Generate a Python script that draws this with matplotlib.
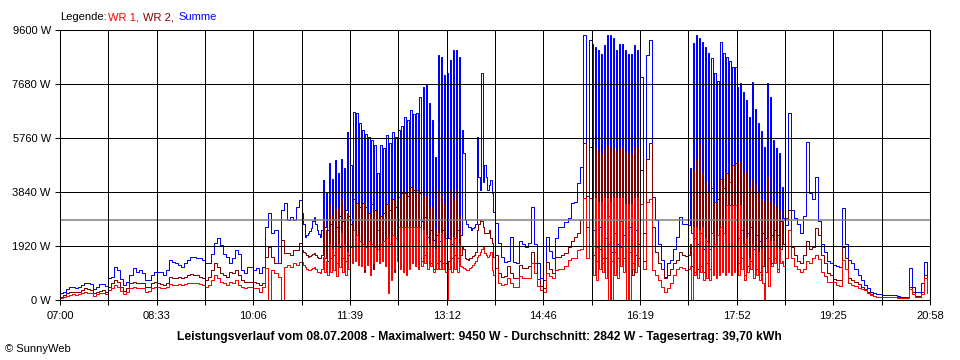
import numpy as np
import matplotlib
matplotlib.use('Agg')
import matplotlib.pyplot as plt

# Leistung in W; die 18 Rasterfelder (je ca. 46,6 min) haben 16 bzw. 32 Messwerte
samples_per_cell = [16, 16, 16, 16, 16, 32, 32, 32, 32, 16, 16, 32, 16, 32, 32, 16, 16, 16]

summe = [
    250, 300, 400, 450, 460, 420, 450, 520, 620, 600, 560, 380, 450, 560, 580, 500,
    770, 830, 1180, 1070, 750, 530, 650, 890, 1150, 1000, 1070, 950, 710, 700, 890, 1000,
    1000, 1000, 890, 1070, 1420, 1360, 1300, 1240, 1190, 1300, 1420, 1540, 1540, 1510, 1510, 1420,
    1300, 1300, 1640, 2040, 2200, 1950, 1640, 1520, 1300, 1500, 1780, 1640, 1070, 950, 1185, 1185,
    1070, 1130, 950, 1185, 2600, 3080, 2370, 2490, 1300, 3200, 3440, 2840, 2960, 2840, 3320, 3560,
    3080, 2700, 2250, 2300, 2370, 2450, 2550, 2800, 2960, 2700, 2490, 2350, 2250, 2500, 4270, 2600,
    3800, 2500, 4860, 2700, 4300, 2840, 4980, 2600, 4500, 3000, 5000, 2800, 4700, 3200, 5980, 3000,
    4800, 2600, 6700, 2500, 6650, 2300, 6300, 2000, 6040, 1800, 5900, 2200, 5800, 1700, 5690, 1800,
    5500, 2400, 4500, 2200, 5500, 2500, 5400, 2000, 5870, 600, 5570, 1300, 5980, 1800, 5800, 2500,
    6040, 2490, 6200, 2600, 6520, 2020, 6400, 2300, 6760, 2960, 6600, 2500, 6650, 2240, 7230, 2800,
    7570, 2960, 7640, 2240, 7000, 2500, 6400, 2130, 5100, 2300, 8700, 2100, 8640, 2490, 8000, 2200,
    8070, 2200, 8530, 2000, 8900, 2200, 8890, 2500, 8640, 2300, 6040, 5220, 2840, 2700, 2600, 2600,
    2490, 2550, 2600, 2700, 5800, 4380, 3910, 8070, 4200, 4800, 4380, 3910, 4100, 4270, 3800, 3130,
    2730, 2020, 1530, 1350, 1400, 2250, 1350, 1300, 2100, 2000, 1900, 2020, 3300, 2000, 1300, 780,
    710, 2250, 1750, 1490, 2200, 2600, 2600, 2770, 2900, 3440, 3500, 4150, 4740, 9420, 3700, 9240,
    9100, 2500, 9000, 1900, 8900, 2600, 8750, 1500, 9070, 2200, 9420, 3000, 9420, 1700, 9300, 2400,
    8900, 2000, 9100, 2800, 9100, 2300, 8900, 0, 8750, 2600, 8750, 1300, 9070, 2500, 8900, 2000,
    7930, 2400, 8700, 9240, 3660, 2840, 2000, 1420, 830, 1300, 1420, 1800, 2250, 2950, 2700, 2700,
    2670, 4690, 2370, 9130, 2200, 9420, 2000, 9300, 2400, 9170, 1800, 9000, 2100, 8800, 1800, 8600,
    2400, 8070, 2000, 7800, 2200, 9170, 2500, 8800, 2300, 8640, 2600, 8500, 2500, 8300, 2300, 8290,
    7570, 2200, 7700, 2500, 7390, 2000, 7110, 2400, 6520, 2600, 7750, 1800, 6800, 2300, 6300, 2100,
    6000, 2400, 5450, 2200, 7700, 1500, 7220, 2300, 5690, 2500, 5400, 2300, 5220, 2800, 4020, 2900,
    2670, 6650, 3200, 2900, 2700, 2400, 3000, 5620, 3800, 3600, 4380, 2800, 2000, 1700, 1400, 1300,
    1240, 1200, 1185, 3270, 2000, 1420, 1300, 1100, 890, 710, 550, 430, 300, 250, 230, 200,
    180, 180, 180, 180, 170, 150, 110, 90, 110, 1130, 470, 290, 290, 600, 1350, 470,
]

wr2 = [
    120, 180, 240, 270, 300, 270, 300, 350, 420, 380, 350, 240, 300, 330, 350, 300,
    470, 590, 710, 650, 470, 330, 420, 590, 650, 600, 620, 590, 470, 470, 590, 650,
    600, 560, 530, 600, 830, 770, 800, 830, 770, 830, 890, 910, 890, 890, 830, 770,
    710, 830, 1070, 1300, 1185, 950, 890, 830, 1000, 950, 1070, 890, 710, 650, 650, 650,
    650, 590, 530, 590, 1540, 1900, 1540, 1300, 1300, 2130, 1660, 1660, 1600, 1780, 1780, 2020,
    1780, 1720, 1660, 1600, 1540, 1570, 1600, 1630, 1660, 1600, 1540, 1500, 1480, 1600, 2800, 1500,
    2500, 1400, 3400, 1500, 3000, 1600, 3200, 1300, 3300, 1900, 3600, 1500, 3200, 1400, 3100, 1600,
    2700, 1500, 3600, 1500, 3450, 1400, 3300, 1200, 3450, 1000, 3300, 1350, 3100, 950, 3400, 1100,
    3200, 1400, 2500, 1300, 3000, 1600, 3100, 1200, 3400, 350, 3200, 750, 3600, 1000, 3300, 1500,
    3660, 1500, 3800, 1400, 3800, 1300, 3700, 1500, 4020, 1700, 3900, 1500, 3900, 1100, 3800, 1400,
    3700, 1600, 3700, 1100, 3300, 1300, 3300, 1100, 2500, 1300, 3910, 1400, 3700, 1300, 3400, 1300,
    0, 1400, 3910, 1500, 3600, 1600, 3910, 1500, 3000, 1600, 1900, 1800, 1500, 1450, 1420, 1500,
    1500, 1550, 1600, 1700, 2490, 2700, 2840, 2800, 2600, 2400, 2370, 2400, 2500, 2200, 2020, 1530,
    1600, 960, 830, 850, 1200, 960, 780, 800, 1250, 1130, 1130, 1200, 1700, 1300, 750, 500,
    420, 1350, 1100, 960, 1530, 1530, 1600, 1660, 1900, 2100, 2250, 2370, 2840, 5570, 2600, 5450,
    5450, 1600, 5400, 1400, 5300, 1800, 5200, 1300, 5400, 1500, 5500, 2000, 5450, 1400, 5400, 1700,
    5300, 1500, 5400, 1900, 5400, 1500, 5300, 0, 5200, 1700, 5200, 900, 5450, 1600, 5450, 1500,
    4620, 1400, 5000, 5570, 2600, 1700, 1300, 1100, 780, 900, 1100, 1300, 1420, 1700, 1600, 1560,
    1600, 2000, 1200, 4620, 1000, 5000, 1100, 5570, 1200, 4500, 1000, 4200, 1300, 3800, 1100, 4000,
    1200, 3500, 900, 3600, 1000, 4300, 1200, 4000, 1100, 4500, 1400, 4200, 1000, 4800, 1200, 4860,
    4900, 1300, 4900, 1500, 4500, 900, 4600, 1200, 4000, 1400, 4300, 800, 4100, 1100, 3800, 1000,
    3600, 1200, 3500, 1000, 4380, 500, 3500, 1300, 3400, 1500, 3300, 1100, 3200, 1800, 2800, 2000,
    2900, 3200, 1900, 1600, 1400, 1300, 1600, 2100, 1800, 1900, 2550, 2300, 1600, 1300, 950, 900,
    750, 720, 710, 1900, 1500, 800, 710, 650, 560, 470, 400, 300, 200, 150, 120, 110,
    110, 110, 110, 100, 100, 90, 80, 70, 80, 470, 300, 150, 150, 300, 890, 300,
]

wr1 = [
    60, 120, 160, 180, 200, 180, 200, 240, 270, 250, 240, 140, 200, 240, 240, 200,
    350, 420, 530, 470, 330, 200, 300, 420, 450, 420, 420, 420, 300, 320, 420, 450,
    470, 420, 420, 470, 560, 530, 530, 560, 530, 560, 600, 600, 600, 600, 560, 530,
    470, 530, 710, 890, 800, 650, 590, 530, 650, 590, 710, 530, 470, 410, 470, 470,
    410, 410, 300, 470, 1130, 0, 1070, 950, 830, 0, 1185, 1240, 1185, 1300, 1240, 1360,
    1360, 1250, 1185, 1100, 1070, 1080, 1100, 1150, 1185, 1100, 1000, 980, 950, 1100, 1540, 1000,
    1400, 900, 2000, 1000, 1800, 1070, 1900, 850, 2000, 1185, 2370, 1000, 2000, 900, 1700, 1100,
    1900, 1300, 2500, 1400, 2300, 1250, 2100, 1200, 2000, 1100, 1900, 1250, 2100, 900, 2000, 1300,
    1900, 1400, 1800, 1300, 2000, 1400, 2100, 1200, 2200, 250, 2000, 700, 2300, 1100, 2200, 1400,
    2600, 1100, 2600, 1000, 2600, 900, 2600, 1100, 2600, 1300, 2600, 1200, 2600, 1100, 2600, 1200,
    2500, 1300, 2300, 1100, 2000, 1200, 2100, 1000, 1800, 1100, 2400, 1100, 2400, 1100, 2200, 1000,
    0, 1100, 2130, 1000, 2250, 1100, 2200, 1000, 2000, 1200, 1185, 1150, 1100, 1070, 1070, 1150,
    1185, 1250, 1300, 1400, 1530, 1600, 1700, 1800, 1880, 1660, 1600, 1530, 1600, 1700, 1070, 900,
    1130, 600, 530, 560, 800, 600, 470, 470, 850, 780, 780, 800, 1300, 950, 500, 350,
    300, 960, 850, 780, 1070, 1100, 1100, 1200, 1420, 1500, 1500, 1780, 1800, 3620, 1500, 3620,
    3620, 900, 3620, 700, 3500, 1100, 3500, 1000, 3620, 800, 3620, 0, 3500, 0, 3620, 900,
    3620, 800, 3620, 1200, 3620, 1000, 3400, 0, 3400, 0, 3400, 1100, 3620, 1000, 3620, 1200,
    3400, 1100, 3500, 3600, 1070, 900, 700, 470, 300, 420, 600, 890, 1100, 1170, 1150, 1070,
    1100, 1200, 0, 2600, 900, 2600, 800, 2500, 1000, 2600, 700, 2200, 800, 2000, 700, 2400,
    900, 2000, 800, 2300, 900, 2600, 1000, 2400, 900, 3380, 1000, 3380, 900, 3380, 1000, 3380,
    3380, 900, 3380, 1100, 2000, 700, 2200, 1000, 1500, 1100, 2000, 800, 1900, 900, 1700, 700,
    1800, 600, 0, 1000, 2200, 500, 2100, 1200, 2100, 1300, 1900, 1000, 1800, 1300, 1400, 1200,
    1500, 2500, 1500, 1200, 1100, 1000, 1100, 1400, 1300, 1500, 1600, 1450, 1000, 850, 640, 640,
    640, 530, 500, 1420, 1100, 600, 530, 500, 430, 400, 350, 250, 180, 150, 110, 110,
    110, 110, 110, 100, 90, 80, 70, 70, 70, 400, 200, 100, 100, 200, 780, 250,
]

durchschnitt = 2842
x_labels = ['07:00', '08:33', '10:06', '11:39', '13:12', '14:46', '16:19', '17:52', '19:25', '20:58']
y_ticks = [0, 1920, 3840, 5760, 7680, 9600]
span = 838  # Minuten 07:00 - 20:58

plt.rcParams['font.family'] = ['Liberation Sans', 'DejaVu Sans']

cell = span / 18
t = np.concatenate([np.linspace(k * cell, (k + 1) * cell, n, endpoint=False)
                    for k, n in enumerate(samples_per_cell)])

fig = plt.figure(figsize=(9.6, 3.6), dpi=100)
ax = fig.add_axes([60 / 960, 60 / 360, 870 / 960, 270 / 360])

lw = 0.72
ax.plot(t, summe, color='#0000ff', lw=lw, drawstyle='steps-post', snap=True, zorder=2)
ax.plot(t, wr2, color='#800000', lw=lw, drawstyle='steps-post', snap=True, zorder=2.1)
ax.plot(t, wr1, color='#ff0000', lw=lw, drawstyle='steps-post', snap=True, zorder=2.2)
ax.axhline(durchschnitt, color='#808080', lw=1.1, zorder=2.5)

for v in y_ticks:
    ax.axhline(v, color='black', lw=lw, snap=True, zorder=3)
for i in range(19):
    ax.axvline(cell * i, color='black', lw=lw, snap=True, zorder=3)

ax.set_xlim(0, span)
ax.set_ylim(0, 9600)
ax.set_xticks([span * i / 9 for i in range(10)])
ax.set_xticklabels(x_labels)
ax.set_xticks([span * (2 * i + 1) / 18 for i in range(9)], minor=True)
ax.set_yticks(y_ticks)
ax.set_yticklabels(['%d W' % v for v in y_ticks])
ax.tick_params(axis='both', which='both', length=3.6, width=0.75, color='black',
               labelsize=8, direction='out')
ax.tick_params(axis='x', pad=4)
ax.tick_params(axis='y', pad=3)
for s in ax.spines.values():
    s.set_linewidth(0.75)
    s.set_color('black')

# Legende oben links
ly = 1 - 17 / 360
fig.text(60 / 960, ly, 'Legende:', color='black', fontsize=8, va='center')
fig.text(108 / 960, ly, 'WR 1,', color='#ff0000', fontsize=8, va='center')
fig.text(143 / 960, ly, 'WR 2,', color='#800000', fontsize=8, va='center')
fig.text(178 / 960, ly, 'Summe', color='#0000ff', fontsize=8, va='center')

fig.text(479 / 960, 1 - 337 / 360,
         'Leistungsverlauf vom 08.07.2008 - Maximalwert: 9450 W - Durchschnitt: 2842 W - Tagesertrag: 39,70 kWh',
         fontsize=8.7, fontweight='bold', ha='center', va='center')
fig.text(5 / 960, 1 - 349 / 360, '\u00a9 SunnyWeb', fontsize=8, va='center')

fig.savefig('out.png', dpi=100)
